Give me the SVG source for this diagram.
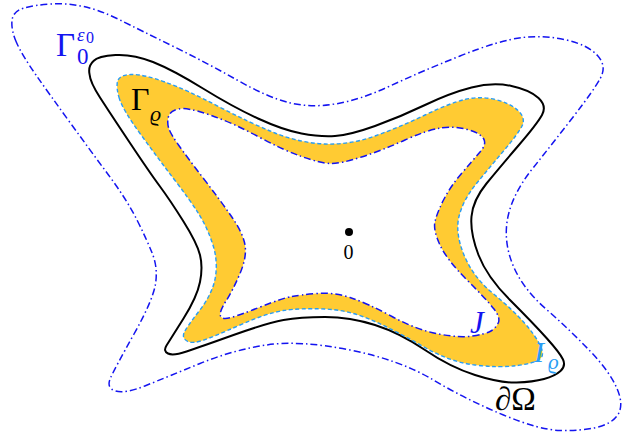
<svg xmlns="http://www.w3.org/2000/svg" width="622" height="438" viewBox="0 0 622 438">
<style>
.dd{fill:none;stroke:#1414F0;stroke-width:1.5;stroke-dasharray:7 3 1.5 3}
.bk{fill:none;stroke:#000;stroke-width:2}
.lb{fill:none;stroke:#2A9DF4;stroke-width:1.4;stroke-dasharray:4 2.5}
.t{font-family:"Liberation Serif","DejaVu Serif",serif}
.it{font-style:italic}
</style>
<rect width="622" height="438" fill="#fff"/>
<g id="gamma0-eps0-curve">
<path class="dd" d="M16.5,42.5 Q11,30 12,20.5 Q13,11 24,8 Q35,5 51,4 Q67,3 83.5,6.5 Q100,10 120,20 Q140,30 173.5,46.5 Q207,63 237,80 Q267,97 288.5,102.5 Q310,108 335,104 Q360,100 390,86 Q420,72 460,56 Q500,40 522.5,37.5 Q545,35 566.5,40 Q588,45 597.5,55.5 Q607,66 600.5,78 Q594,90 573.5,116.5 Q553,143 533,168 Q513,193 508,216.5 Q503,240 512.5,264 Q522,288 546,309 Q570,330 590,351 Q610,372 617,388.5 Q624,405 618,414.5 Q612,424 596,427.5 Q580,431 560,430.5 Q540,430 503.5,415 Q467,400 433.5,380 Q400,360 350,350 Q300,340 266.5,345 Q233,350 200,363.5 Q167,377 146,385.5 Q125,394 115.5,391 Q106,388 110.5,378 Q115,368 134,334 Q153,300 155.5,284 Q158,268 152.5,254 Q147,240 137,220 Q127,200 108.5,175 Q90,150 70,122.5 Q50,95 36,75 Q22,55 16.5,42.5 Z"/>
</g>
<g id="domain-boundary">
<path class="bk" d="M89.5,74 Q88,66 93.5,61 Q98,56 115.5,55 Q133,54 153,62 Q173,70 203,88.5 Q233,107 258,118.5 Q283,130 301.5,133.5 Q320,137 335,136 Q350,135 375,126 Q400,117 425,105 Q450,93 471.5,87.5 Q493,82 511.5,86 Q530,90 538.5,98 Q547,106 542,115 Q537,124 518.5,145.5 Q500,167 486.5,183.5 Q473,200 471.5,216.5 Q470,233 478.5,255 Q487,277 510,300 Q533,323 546.5,338 Q560,353 563,359.5 Q566,366 560.5,371 Q555,376 544,379 Q533,382 516.5,382.5 Q500,383 475,375 Q450,367 425,350 Q400,333 375,325 Q350,317 325,317 Q300,317 283.5,320 Q267,323 233.5,335 Q200,347 186.5,351.5 Q173,356 168,353.5 Q163,351 166.5,345.5 Q170,340 183.5,318.5 Q197,297 200,282 Q203,267 200,255 Q197,243 183.5,221.5 Q170,200 160,186.5 Q150,173 130,143 Q110,113 100,97.5 Q90,82 89.5,74 Z"/>
</g>
<g id="band">
<path fill="#FFCB33" fill-rule="evenodd" d="M119.5,99 Q116,88 117.5,81.5 Q119,75 131,74.5 Q143,74 165,82 Q187,90 218.5,106.5 Q250,123 275,133 Q300,143 325,144 Q350,145 375,136 Q400,127 425,115 Q450,103 465,99.5 Q480,96 495,99.5 Q510,103 518,110.5 Q526,118 522,126 Q518,134 504,150.5 Q490,167 476.5,183.5 Q463,200 459,216.5 Q455,233 464,255 Q473,277 493,293.5 Q513,310 524,322.5 Q535,335 540,345 Q545,355 540,359 Q535,363 517.5,365.5 Q500,368 475,365 Q450,362 425,347.5 Q400,333 375,321.5 Q350,310 325,309 Q300,308 283.5,310.5 Q267,313 240,325 Q213,337 202.5,340.5 Q192,344 187,341 Q182,338 184,333 Q186,328 199.5,310.5 Q213,293 215.5,276.5 Q218,260 212.5,243.5 Q207,227 198.5,213.5 Q190,200 173.5,178.5 Q157,157 140,133.5 Q123,110 119.5,99 Z M168.5,127.5 Q167,122 168.5,116.5 Q170,111 178.5,109 Q187,107 210,115 Q233,123 258,136.5 Q283,150 301.5,156.5 Q320,163 330,163.5 Q340,164 361.5,157 Q383,150 405,140 Q427,130 441,128 Q455,126 467.5,129.5 Q480,133 483.5,138.5 Q487,144 480,152 Q473,160 461.5,173.5 Q450,187 443.5,200 Q437,213 435,221.5 Q433,230 440,245 Q447,260 467,280 Q487,300 494,309 Q501,318 498,323.5 Q495,329 490,331.5 Q485,334 472.5,336 Q460,338 438.5,334 Q417,330 392,316.5 Q367,303 350,297.5 Q333,292 316.5,293.5 Q300,295 291.5,296.5 Q283,298 261.5,306.5 Q240,315 231,317.5 Q222,320 220.5,316 Q219,312 226,301 Q233,290 240,273.5 Q247,257 245,245 Q243,233 231.5,216.5 Q220,200 203.5,178.5 Q187,157 178.5,145 Q170,133 168.5,127.5 Z"/>
</g>
<g id="I-rho-curve">
<path class="lb" d="M119.5,99 Q116,88 117.5,81.5 Q119,75 131,74.5 Q143,74 165,82 Q187,90 218.5,106.5 Q250,123 275,133 Q300,143 325,144 Q350,145 375,136 Q400,127 425,115 Q450,103 465,99.5 Q480,96 495,99.5 Q510,103 518,110.5 Q526,118 522,126 Q518,134 504,150.5 Q490,167 476.5,183.5 Q463,200 459,216.5 Q455,233 464,255 Q473,277 493,293.5 Q513,310 524,322.5 Q535,335 540,345 Q545,355 540,359 Q535,363 517.5,365.5 Q500,368 475,365 Q450,362 425,347.5 Q400,333 375,321.5 Q350,310 325,309 Q300,308 283.5,310.5 Q267,313 240,325 Q213,337 202.5,340.5 Q192,344 187,341 Q182,338 184,333 Q186,328 199.5,310.5 Q213,293 215.5,276.5 Q218,260 212.5,243.5 Q207,227 198.5,213.5 Q190,200 173.5,178.5 Q157,157 140,133.5 Q123,110 119.5,99 Z"/>
</g>
<g id="J-curve">
<path class="dd" d="M168.5,127.5 Q167,122 168.5,116.5 Q170,111 178.5,109 Q187,107 210,115 Q233,123 258,136.5 Q283,150 301.5,156.5 Q320,163 330,163.5 Q340,164 361.5,157 Q383,150 405,140 Q427,130 441,128 Q455,126 467.5,129.5 Q480,133 483.5,138.5 Q487,144 480,152 Q473,160 461.5,173.5 Q450,187 443.5,200 Q437,213 435,221.5 Q433,230 440,245 Q447,260 467,280 Q487,300 494,309 Q501,318 498,323.5 Q495,329 490,331.5 Q485,334 472.5,336 Q460,338 438.5,334 Q417,330 392,316.5 Q367,303 350,297.5 Q333,292 316.5,293.5 Q300,295 291.5,296.5 Q283,298 261.5,306.5 Q240,315 231,317.5 Q222,320 220.5,316 Q219,312 226,301 Q233,290 240,273.5 Q247,257 245,245 Q243,233 231.5,216.5 Q220,200 203.5,178.5 Q187,157 178.5,145 Q170,133 168.5,127.5 Z"/>
</g>
<g id="origin">
<circle cx="349" cy="232" r="4" fill="#000"/>
<text class="t" x="348.5" y="259" font-size="20" text-anchor="middle" fill="#000">0</text>
</g>
<g id="labels">
<g id="label-gamma0" fill="#1414F0">
<text class="t" x="56" y="56" font-size="33">Γ</text>
<text class="t" x="77" y="64" font-size="23">0</text>
<text class="t it" x="77" y="41" font-size="19">ε</text>
<text class="t" x="86" y="43" font-size="16">0</text>
</g>
<g id="label-gamma-rho" fill="#000">
<text class="t" x="131" y="110" font-size="32">Γ</text>
<text class="t it" x="150" y="121" font-size="22">ϱ</text>
</g>
<text id="label-J" class="t it" x="470" y="333" font-size="31" fill="#1414F0">J</text>
<g id="label-I-rho" fill="#2A9DF4">
<text class="t it" x="534" y="362" font-size="30">I</text>
<text class="t it" x="548" y="369" font-size="21">ϱ</text>
</g>
<text id="label-boundary" class="t" x="495" y="410" font-size="33" fill="#000">∂Ω</text>
</g>
</svg>
